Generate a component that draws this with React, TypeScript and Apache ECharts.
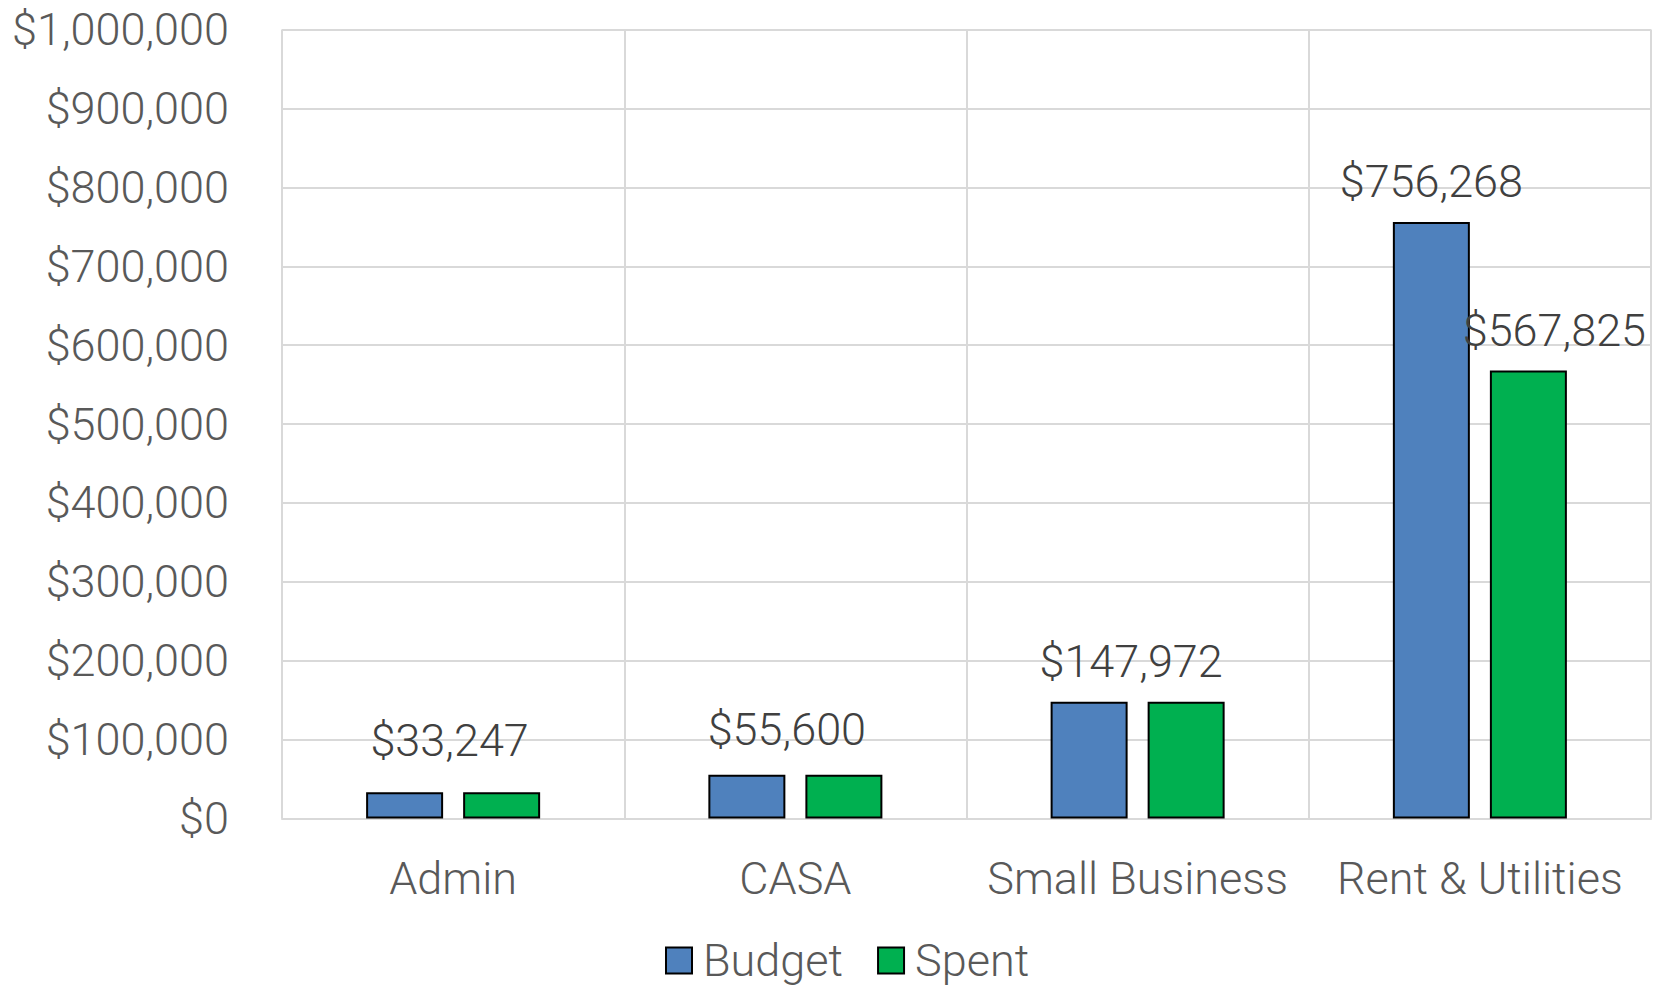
import React, { useEffect, useRef } from "react";
import * as echarts from "echarts";

const categories = ["Admin", "CASA", "Small Business", "Rent & Utilities"];
const budget = [33247, 55600, 147972, 756268];
const spent = [33247, 55600, 147972, 567825];
const yTicks = { min: 0, max: 1000000, interval: 100000 };

// which labels are shown, and where Excel nudged them (px)
const budgetLabelNudge: ([number, number] | null)[] = [[45, -11], [40, -5], [42, 0], [0, 0]];
const spentLabelNudge: ([number, number] | null)[] = [null, null, null, [26, 0]];

const FONT = "Roboto";
const FS = 45;
const money = (v: number) => "$" + Math.round(v).toLocaleString("en-US");

export default function App() {
  const ref = useRef<HTMLDivElement>(null);
  useEffect(() => {
    const chart = echarts.init(ref.current!, null, { renderer: "svg" });
    const labelBase = {
      position: "top",
      distance: 18,
      fontFamily: FONT,
      fontWeight: 300,
      fontSize: FS,
      color: "#404040",
      formatter: (p: any) => money(p.value),
    };
    const mk = (vals: number[], nudges: ([number, number] | null)[]) =>
      vals.map((v, i) => ({
        value: v,
        label: nudges[i] ? { ...labelBase, show: true, offset: nudges[i] } : { show: false },
      }));
    chart.setOption({
      animation: false,
      backgroundColor: "#ffffff",
      grid: { left: 282, right: 5, top: 29.6, bottom: 168.5, containLabel: false },
      legend: {
        left: 660,
        top: 933,
        itemWidth: 26,
        itemHeight: 26,
        itemGap: 34,
        icon: "rect",
        textStyle: { fontFamily: FONT, fontWeight: 300, fontSize: FS, color: "#595959", padding: [0, 0, 0, 6] },
        data: ["Budget", "Spent"],
      },
      xAxis: {
        type: "category",
        data: categories,
        axisLine: { show: true, lineStyle: { color: "#d9d9d9", width: 2 } },
        axisTick: { show: false },
        splitLine: { show: true, interval: 0, lineStyle: { color: "#d9d9d9", width: 2 } },
        axisLabel: { interval: 0, margin: 37, fontFamily: FONT, fontWeight: 300, fontSize: FS, color: "#595959" },
      },
      yAxis: {
        type: "value",
        min: yTicks.min,
        max: yTicks.max,
        interval: yTicks.interval,
        axisLine: { show: false },
        axisTick: { show: false },
        splitLine: { show: true, lineStyle: { color: "#d9d9d9", width: 2 } },
        axisLabel: {
          margin: 53,
          fontFamily: FONT,
          fontWeight: 300,
          fontSize: FS,
          color: "#595959",
          formatter: (v: number) => money(v),
        },
      },
      series: [
        {
          name: "Budget",
          type: "bar",
          barWidth: 77,
          barGap: "26%",
          itemStyle: { color: "#4F81BD", borderColor: "#000000", borderWidth: 2 },
          data: mk(budget, budgetLabelNudge),
        },
        {
          name: "Spent",
          type: "bar",
          barWidth: 77,
          barGap: "26%",
          itemStyle: { color: "#00B050", borderColor: "#000000", borderWidth: 2 },
          data: mk(spent, spentLabelNudge),
        },
      ],
    });
    return () => chart.dispose();
  }, []);
  return (
    <div
      ref={ref}
      style={{ position: "absolute", left: 0, top: 0, width: 1656, height: 987 }}
    />
  );
}
